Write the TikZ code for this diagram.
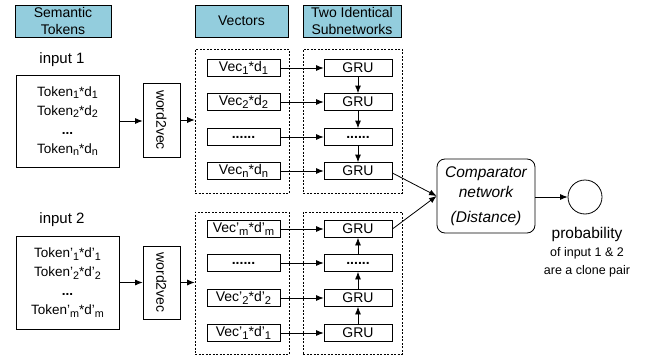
\documentclass[tikz,border=0pt]{standalone}
\usepackage{fontspec}
\setmainfont{Liberation Sans}
\usetikzlibrary{arrows.meta}
\definecolor{hdr}{RGB}{147,205,221}
\newcommand\sbx[1]{\raisebox{-0.35ex}{\scalebox{0.8}{#1}}}
\begin{document}
\begin{tikzpicture}[x=1pt,y=-1pt,line width=0.8pt,
 hdrbox/.style={draw, fill=hdr, inner sep=0pt, align=center, minimum height=32pt, font=\fontsize{14}{16.5}\selectfont},
 vbox/.style={draw, inner sep=0pt, minimum width=73pt, minimum height=17pt, font=\fontsize{14}{15}\selectfont},
 gbox/.style={draw, inner sep=0pt, minimum width=68pt, minimum height=17pt, font=\fontsize{14}{15}\selectfont},
 dbox/.style={draw, dash pattern=on 2pt off 1.5pt, line width=0.6pt, inner sep=0pt},
 tokbox/.style={draw, inner sep=0pt, minimum width=103pt, align=center, font=\fontsize{13.5}{19}\selectfont},
 wbox/.style={draw, inner sep=0pt, minimum width=37pt, font=\fontsize{14}{15}\selectfont},
 lbl/.style={font=\fontsize{15}{17}\selectfont, inner sep=0pt},
 arr/.style={-{Latex[length=7.5pt,width=6pt]}}
]
\useasboundingbox (0,0) rectangle (654,356);
% headers
\node[hdrbox, minimum width=96pt] (hst) at (63,21) {Semantic\\Tokens};
\node[hdrbox, minimum width=93pt] (hv) at (241.5,21) {Vectors};
\node[hdrbox, minimum width=98pt] (hs) at (352,21) {Two Identical\\Subnetworks};
% input labels
\node[lbl] (in1) at (62,60) {input 1};
\node[lbl] (in2) at (62,220) {input 2};
% token boxes
\node[tokbox, minimum height=92pt] (tok1) at (67.5,121) {Token\sbx{1}*d\sbx{1}\\Token\sbx{2}*d\sbx{2}\\\textbf{...}\\Token\sbx{n}*d\sbx{n}};
\node[tokbox, minimum height=93pt] (tok2) at (67.5,282.5) {Token'\sbx{1}*d'\sbx{1}\\Token'\sbx{2}*d'\sbx{2}\\\textbf{...}\\Token'\sbx{m}*d'\sbx{m}};
% word2vec
\node[wbox, minimum height=74pt] (w1) at (161.5,120) {\rotatebox{-90}{word2vec}};
\node[wbox, minimum height=73pt] (w2) at (161.5,282.5) {\rotatebox{-90}{word2vec}};
% dashed groups
\node[dbox, minimum width=94pt, minimum height=144pt] (dv1) at (242,121) {};
\node[dbox, minimum width=99pt, minimum height=144pt] (ds1) at (352.5,121) {};
\node[dbox, minimum width=94pt, minimum height=142pt] (dv2) at (242,283) {};
\node[dbox, minimum width=99pt, minimum height=142pt] (ds2) at (352.5,283) {};
% vectors upper
\node[vbox] (v1) at (243.5,68) {Vec\sbx{1}*d\sbx{1}};
\node[vbox] (v2) at (243.5,102) {Vec\sbx{2}*d\sbx{2}};
\node[vbox] (v3) at (243.5,137) {\textbf{......}};
\node[vbox] (v4) at (243.5,171) {Vec\sbx{n}*d\sbx{n}};
\node[gbox] (g1) at (358,68) {GRU};
\node[gbox] (g2) at (358,102) {GRU};
\node[gbox] (g3) at (358,137) {\textbf{......}};
\node[gbox] (g4) at (358,171) {GRU};
% vectors lower
\node[vbox] (u1) at (243.5,229) {Vec'\sbx{m}*d'\sbx{m}};
\node[vbox] (u2) at (243.5,263) {\textbf{......}};
\node[vbox] (u3) at (243.5,298) {Vec'\sbx{2}*d'\sbx{2}};
\node[vbox] (u4) at (243.5,333) {Vec'\sbx{1}*d'\sbx{1}};
\node[gbox] (h1) at (358,229) {GRU};
\node[gbox] (h2) at (358,263) {\textbf{......}};
\node[gbox] (h3) at (358,298) {GRU};
\node[gbox] (h4) at (358,333) {GRU};
% comparator and output
\node[draw, rounded corners=8pt, minimum width=98pt, minimum height=74pt, inner sep=0pt, align=center, font=\itshape\fontsize{15.5}{20}\selectfont] (cmp) at (486,196) {Comparator\\network\\[5pt](Distance)};
\node[draw, circle, minimum size=34pt, inner sep=0pt] (out) at (585,197) {};
\node[inner sep=0pt, align=center, font=\fontsize{12.5}{18}\selectfont] (prob) at (587,252) {{\fontsize{15.5}{18}\selectfont probability}\\of input 1 \& 2\\are a clone pair};
% arrows
\draw[arr] (tok1.east) -- (tok1.east -| w1.west);
\draw[arr] (w1.east) -- (w1.east -| dv1.west);
\draw[arr] (tok2.east) -- (tok2.east -| w2.west);
\draw[arr] (w2.east) -- (w2.east -| dv2.west);
\foreach \a/\b in {v1/g1,v2/g2,v3/g3,v4/g4,u1/h1,u2/h2,u3/h3,u4/h4}
  \draw[arr] (\a.east) -- (\b.west);
\draw[arr] (g1.south) -- (g2.north);
\draw[arr] (g2.south) -- (g3.north);
\draw[arr] (g3.south) -- (g4.north);
\draw[arr] (h4.north) -- (h3.south);
\draw[arr] (h3.north) -- (h2.south);
\draw[arr] (h2.north) -- (h1.south);
\draw[arr] ([yshift=-2pt]g4.east) -- (cmp.west);
\draw[arr] (h1.east) -- (cmp.west);
\draw[arr] (cmp.east |- out.west) -- (out.west);
\end{tikzpicture}
\end{document}
